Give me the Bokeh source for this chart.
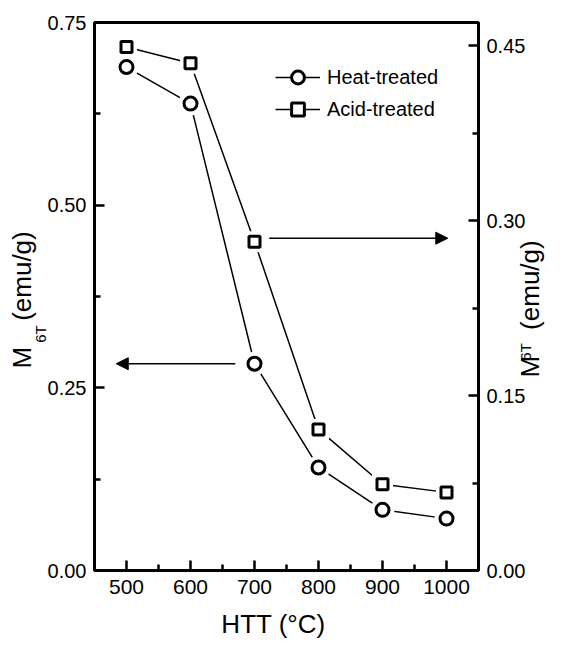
from math import pi
from bokeh.plotting import figure
from bokeh.models import (Range1d, LinearAxis, FixedTicker, NumeralTickFormatter,
                          Arrow, NormalHead, Legend, LegendItem, Title)
from bokeh.embed import file_html
from bokeh.resources import INLINE

# ---- data ----
htt = [500, 600, 700, 800, 900, 1000]
heat_treated = [0.689, 0.639, 0.283, 0.141, 0.083, 0.071]   # left axis
acid_treated = [0.449, 0.435, 0.282, 0.121, 0.074, 0.067]   # right axis
x_ticks = [500, 600, 700, 800, 900, 1000]
x_minor = [550, 650, 750, 850, 950]
left_ticks = [0.0, 0.25, 0.50, 0.75]
left_minor = [0.125, 0.375, 0.625]
right_ticks = [0.0, 0.15, 0.30, 0.45]
right_minor = [0.075, 0.225, 0.375]
x_limits = (450, 1050)
left_limits = (0.0, 0.75)
right_limits = (0.0, 0.47)
# arrows pointing at the axis each series belongs to
left_arrow = (670, 484, 0.283)
right_arrow = (723, 1002, 0.285)
# where the right-hand title pieces start (right-axis units, text reads upward)
right_title_start = 0.1655
right_sub_start = 0.180

FONT = "Liberation Sans, Arial, sans-serif"
EM = "\u2003"   # em space (padding to shift a centred axis title)
EN = "\u2002"   # en space (gap left for the subscript)


def safe(obj, name, val, fallback=None):
    try:
        setattr(obj, name, val)
    except Exception:
        if fallback is not None:
            setattr(obj, name, fallback)


p = figure(width=563, height=645, x_range=Range1d(*x_limits), y_range=Range1d(*left_limits),
           output_backend="svg", toolbar_location=None,
           min_border_left=94, min_border_right=84, min_border_top=22, min_border_bottom=75)
p.title.visible = False
p.extra_y_ranges = {"right": Range1d(*right_limits)}
p.add_layout(LinearAxis(y_range_name="right"), "right")
p.grid.visible = False
p.background_fill_color = "white"
p.border_fill_color = "white"
p.outline_line_color = "black"
p.outline_line_width = 3
p.outline_line_alpha = 1


def style(ax, standoff, size):
    ax.axis_line_color = "black"
    ax.axis_line_width = 3
    ax.major_tick_line_color = "black"
    ax.major_tick_line_width = 2.5
    ax.major_tick_in = 10
    ax.major_tick_out = 0
    ax.minor_tick_line_color = "black"
    ax.minor_tick_line_width = 2.5
    ax.minor_tick_in = 6
    ax.minor_tick_out = 0
    ax.major_label_text_font = FONT
    ax.major_label_text_font_size = size
    ax.major_label_text_color = "black"
    ax.major_label_standoff = standoff
    ax.axis_label_text_font = FONT
    ax.axis_label_text_font_style = "normal"
    ax.axis_label_text_color = "black"


xa = p.xaxis[0]
ya = p.yaxis[0]
ra = p.yaxis[1]
xa.ticker = FixedTicker(ticks=x_ticks, minor_ticks=x_minor)
ya.ticker = FixedTicker(ticks=left_ticks, minor_ticks=left_minor)
ra.ticker = FixedTicker(ticks=right_ticks, minor_ticks=right_minor)
ya.formatter = NumeralTickFormatter(format="0.00")
ra.formatter = NumeralTickFormatter(format="0.00")
style(xa, 9, "21px")
style(ya, 8, "20px")
style(ra, 8, "20px")

# x title
xa.axis_label = "HTT (\u00b0C)" + EM
xa.axis_label_text_font_size = "26px"
xa.axis_label_standoff = 12

# left title: subscript as the axis label, main text as a side title
ya.axis_label = "6T" + EM * 5
ya.axis_label_text_font_size = "15px"
safe(ya, "axis_label_standoff", -4, 0)
t_left = Title(text="M" + EN + EN + "(emu/g)", align="left", offset=202,
               text_font=FONT, text_font_size="26px", text_font_style="normal",
               text_color="black", vertical_align="bottom")
safe(t_left, "standoff", -17, 0)
p.add_layout(t_left, "left")


# right title: each piece is the single (rotated) tick label of a bare axis
def bare_axis(text, size, at, standoff):
    ax = LinearAxis(y_range_name="right", ticker=FixedTicker(ticks=[at], minor_ticks=[]),
                    major_label_overrides={at: text},
                    axis_line_color=None, major_tick_in=0, major_tick_out=0,
                    minor_tick_in=0, minor_tick_out=0,
                    major_label_text_font=FONT, major_label_text_font_size=size,
                    major_label_text_color="black")
    ax.major_label_orientation = pi / 2
    safe(ax, "major_label_standoff", standoff, 0)
    p.add_layout(ax, "right")
    return ax


bare_axis("6T", "15px", right_sub_start, -3)
bare_axis("M" + EN + EN + "(emu/g)", "26px", right_title_start, -15)

# ---- series ----
l1 = p.line(htt, heat_treated, line_color="black", line_width=1.5)
p.scatter(htt, heat_treated, marker="circle", size=24, fill_color="white", line_color=None)
m1 = p.scatter(htt, heat_treated, marker="circle", size=13, fill_color="white",
               line_color="black", line_width=3)

l2 = p.line(htt, acid_treated, line_color="black", line_width=1.5, y_range_name="right")
p.scatter(htt, acid_treated, marker="square", size=21, fill_color="white", line_color=None,
          y_range_name="right")
m2 = p.scatter(htt, acid_treated, marker="square", size=11, fill_color="white",
               line_color="black", line_width=3, y_range_name="right")

# ---- arrows ----
p.add_layout(Arrow(end=NormalHead(size=12, fill_color="black", line_color="black", line_width=1),
                   x_start=left_arrow[0], x_end=left_arrow[1],
                   y_start=left_arrow[2], y_end=left_arrow[2],
                   line_color="black", line_width=1.5))
p.add_layout(Arrow(end=NormalHead(size=12, fill_color="black", line_color="black", line_width=1),
                   x_start=right_arrow[0], x_end=right_arrow[1],
                   y_start=right_arrow[2], y_end=right_arrow[2],
                   line_color="black", line_width=1.5, y_range_name="right"))

# ---- legend ----
legend = Legend(items=[LegendItem(label="Heat-treated", renderers=[l1, m1]),
                       LegendItem(label="Acid-treated", renderers=[l2, m2])],
                location=(181, 445), orientation="vertical",
                background_fill_alpha=0, border_line_color=None,
                padding=0, margin=0, spacing=0,
                glyph_width=45, glyph_height=32, label_height=32, label_standoff=7,
                label_text_font=FONT, label_text_font_size="20px", label_text_color="black")
p.add_layout(legend)

open("out.html", "w").write(file_html(p, INLINE))
